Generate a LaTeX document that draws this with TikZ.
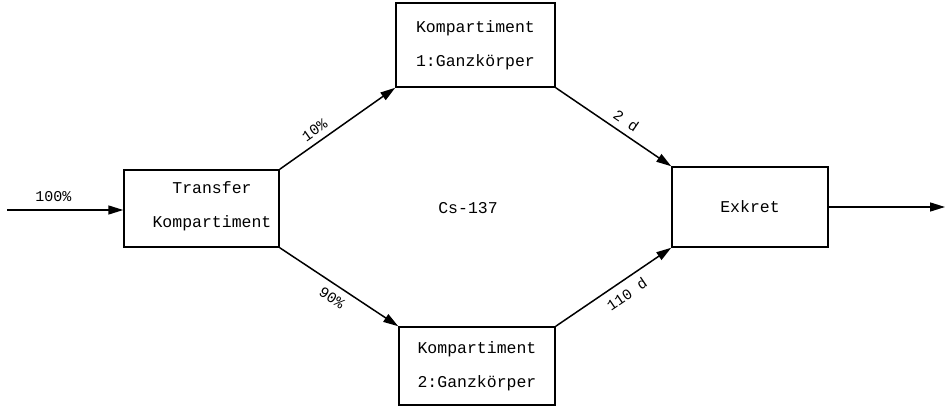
\documentclass[tikz,border=0pt]{standalone}
\usepackage{fontspec}
\setmonofont{Liberation Mono}
\usetikzlibrary{arrows.meta}
\begin{document}
\begin{tikzpicture}[x=1pt,y=-1pt,
  every node/.style={font=\ttfamily\fontsize{16.5}{34}\selectfont},
  box/.style={draw, line width=1.5pt, inner sep=0pt},
  flow/.style={line width=1.5pt, -{Triangle[length=15pt,width=9pt]}},
  lbl/.style={font=\ttfamily\fontsize{15}{16}\selectfont, sloped, inner sep=1pt}]
\useasboundingbox (0,0) rectangle (950,406);

% compartments
\node[box, minimum width=155pt, minimum height=77pt] (transfer) at (201.5,208.5) {};
\node[align=center] (transfertext) at (212,206) {Transfer\\Kompartiment};
\node[box, minimum width=159pt, minimum height=84pt, align=center] (k1) at (475.5,45) {Kompartiment\\1:Ganzkörper};
\node[box, minimum width=156pt, minimum height=78pt, align=center] (k2) at (477,366) {Kompartiment\\2:Ganzkörper};
\node[box, minimum width=156pt, minimum height=80pt] (exkret) at (750,207) {Exkret};
\node (cs) at (468,208) {Cs-137};

% inflow and outflow
\coordinate (in) at (7,210);
\coordinate (out) at (945,207);
\draw[flow] (in) -- node[lbl, above, pos=0.4, yshift=7pt] (l100) {100\%} (transfer.west |- in);
\draw[flow] (exkret.east |- out) -- (out);

% transfers between compartments
\draw[flow] (transfer.north east) -- node[lbl, above, pos=0.36, yshift=5pt] (l10) {10\%} (k1.south west);
\draw[flow] (transfer.south east) -- node[lbl, below, pos=0.5, yshift=-6pt] (l90) {90\%} (k2.north west);
\draw[flow] (k1.south east) -- node[lbl, above, pos=0.55, yshift=5pt] (l2d) {2 d} (exkret.north west);
\draw[flow] (k2.north east) -- node[lbl, below, pos=0.55, yshift=-6pt] (l110) {110 d} (exkret.south west);
\end{tikzpicture}
\end{document}
